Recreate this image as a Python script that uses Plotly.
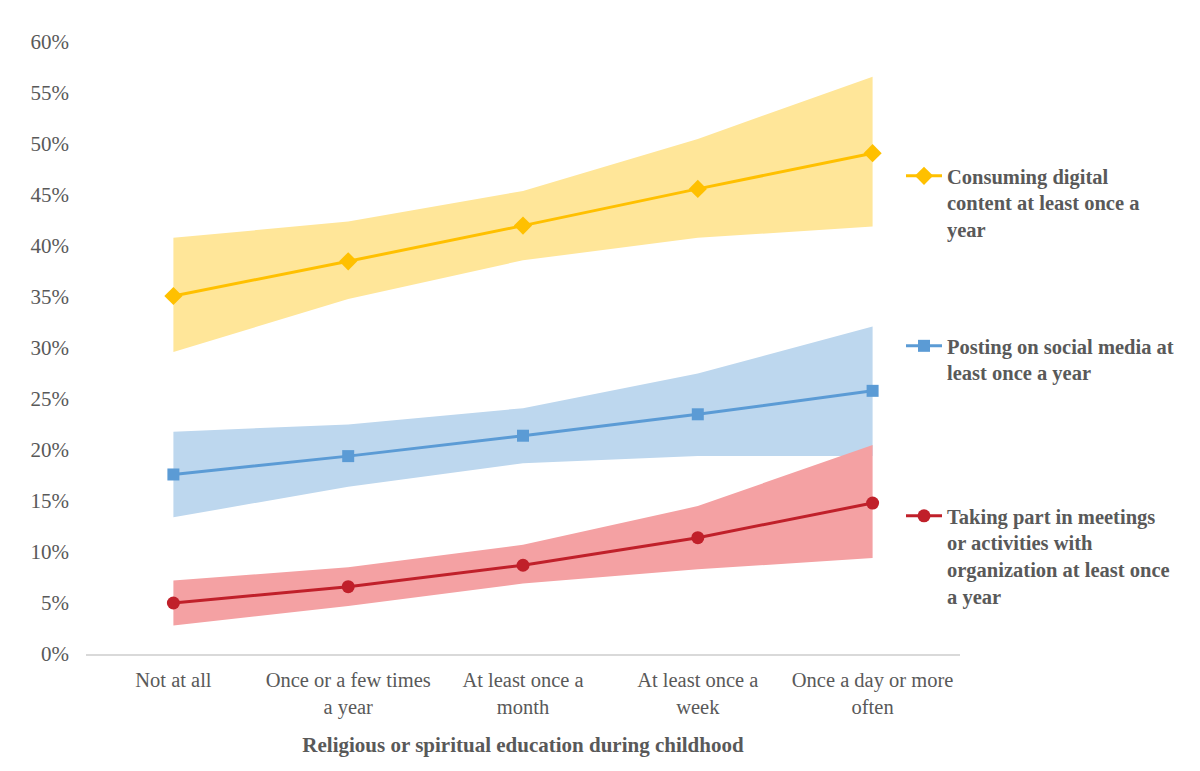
import plotly.graph_objects as go

categories = ["Not at all", "Once or a few times<br>a year", "At least once a<br>month",
              "At least once a<br>week", "Once a day or more<br>often"]

consuming = [35.1, 38.5, 42.0, 45.6, 49.1]
consuming_hi = [40.8, 42.4, 45.4, 50.5, 56.6]
consuming_lo = [29.6, 34.8, 38.6, 40.8, 41.9]

posting = [17.6, 19.4, 21.4, 23.5, 25.8]
posting_hi = [21.8, 22.5, 24.1, 27.5, 32.1]
posting_lo = [13.4, 16.4, 18.7, 19.4, 19.4]

taking = [5.0, 6.6, 8.7, 11.4, 14.8]
taking_hi = [7.2, 8.5, 10.7, 14.5, 20.5]
taking_lo = [2.8, 4.7, 6.9, 8.3, 9.4]

yticks = [0, 5, 10, 15, 20, 25, 30, 35, 40, 45, 50, 55, 60]

FONT = "Times New Roman, Liberation Serif, serif"
GREY = "#595959"

series = [
    ("Consuming digital<br>content at least once a<br>year", consuming, consuming_hi, consuming_lo,
     "#FFC000", "rgba(255,230,153,1)", "diamond", 14, "legend"),
    ("Posting on social media at<br>least once a year", posting, posting_hi, posting_lo,
     "#5B9BD5", "rgba(189,215,238,1)", "square", 12, "legend2"),
    ("Taking part in meetings<br>or activities with<br>organization at least once<br>a year", taking, taking_hi, taking_lo,
     "#C0202A", "rgba(244,161,163,1)", "circle", 13, "legend3"),
]

fig = go.Figure()
for name, mid, hi, lo, lc, fc, sym, ms, lg in series:
    fig.add_trace(go.Scatter(x=categories, y=[v / 100 for v in hi], mode="lines",
                             line=dict(width=0, color=fc), showlegend=False, hoverinfo="skip"))
    fig.add_trace(go.Scatter(x=categories, y=[v / 100 for v in lo], mode="lines",
                             line=dict(width=0, color=fc), fill="tonexty", fillcolor=fc,
                             showlegend=False, hoverinfo="skip"))

for name, mid, hi, lo, lc, fc, sym, ms, lg in series:
    fig.add_trace(go.Scatter(x=categories, y=[v / 100 for v in mid], mode="lines+markers",
                             name="<b>" + name + "</b>", legend=lg,
                             line=dict(color=lc, width=3),
                             marker=dict(symbol=sym, size=ms, color=lc)))

legend_common = dict(x=0.9325, xanchor="left", yanchor="top", valign="top",
                     font=dict(family=FONT, size=20.5, color=GREY),
                     itemwidth=36, bgcolor="rgba(0,0,0,0)", tracegroupgap=0)

# figure sits 8px inside the page (default body margin)
fig.update_layout(
    width=1200, height=771,
    margin=dict(l=78, r=248, t=34, b=125, autoexpand=False),
    paper_bgcolor="white", plot_bgcolor="white",
    font=dict(family=FONT, size=20.5, color=GREY),
    xaxis=dict(showgrid=False, showline=True, linecolor="#D9D9D9", linewidth=1.5,
               ticks="", ticklabelstandoff=7, tickfont=dict(family=FONT, size=20.5, color=GREY),
               title=dict(text="<b>Religious or spiritual education during childhood</b>",
                          font=dict(family=FONT, size=21, color=GREY), standoff=19),
               range=[-0.5, 4.5], automargin=False),
    yaxis=dict(range=[0, 0.6], tickvals=[v / 100 for v in yticks],
               ticktext=[f"{v}%" for v in yticks], showgrid=False, zeroline=False,
               showline=False, ticks="", ticklabelstandoff=16, automargin=False,
               tickfont=dict(family=FONT, size=21, color=GREY)),
    legend=dict(**legend_common, y=(646 - 148) / 612),
    legend2=dict(**legend_common, y=(646 - 318) / 612),
    legend3=dict(**legend_common, y=(646 - 488) / 612),
)

fig.write_html("out.html")
